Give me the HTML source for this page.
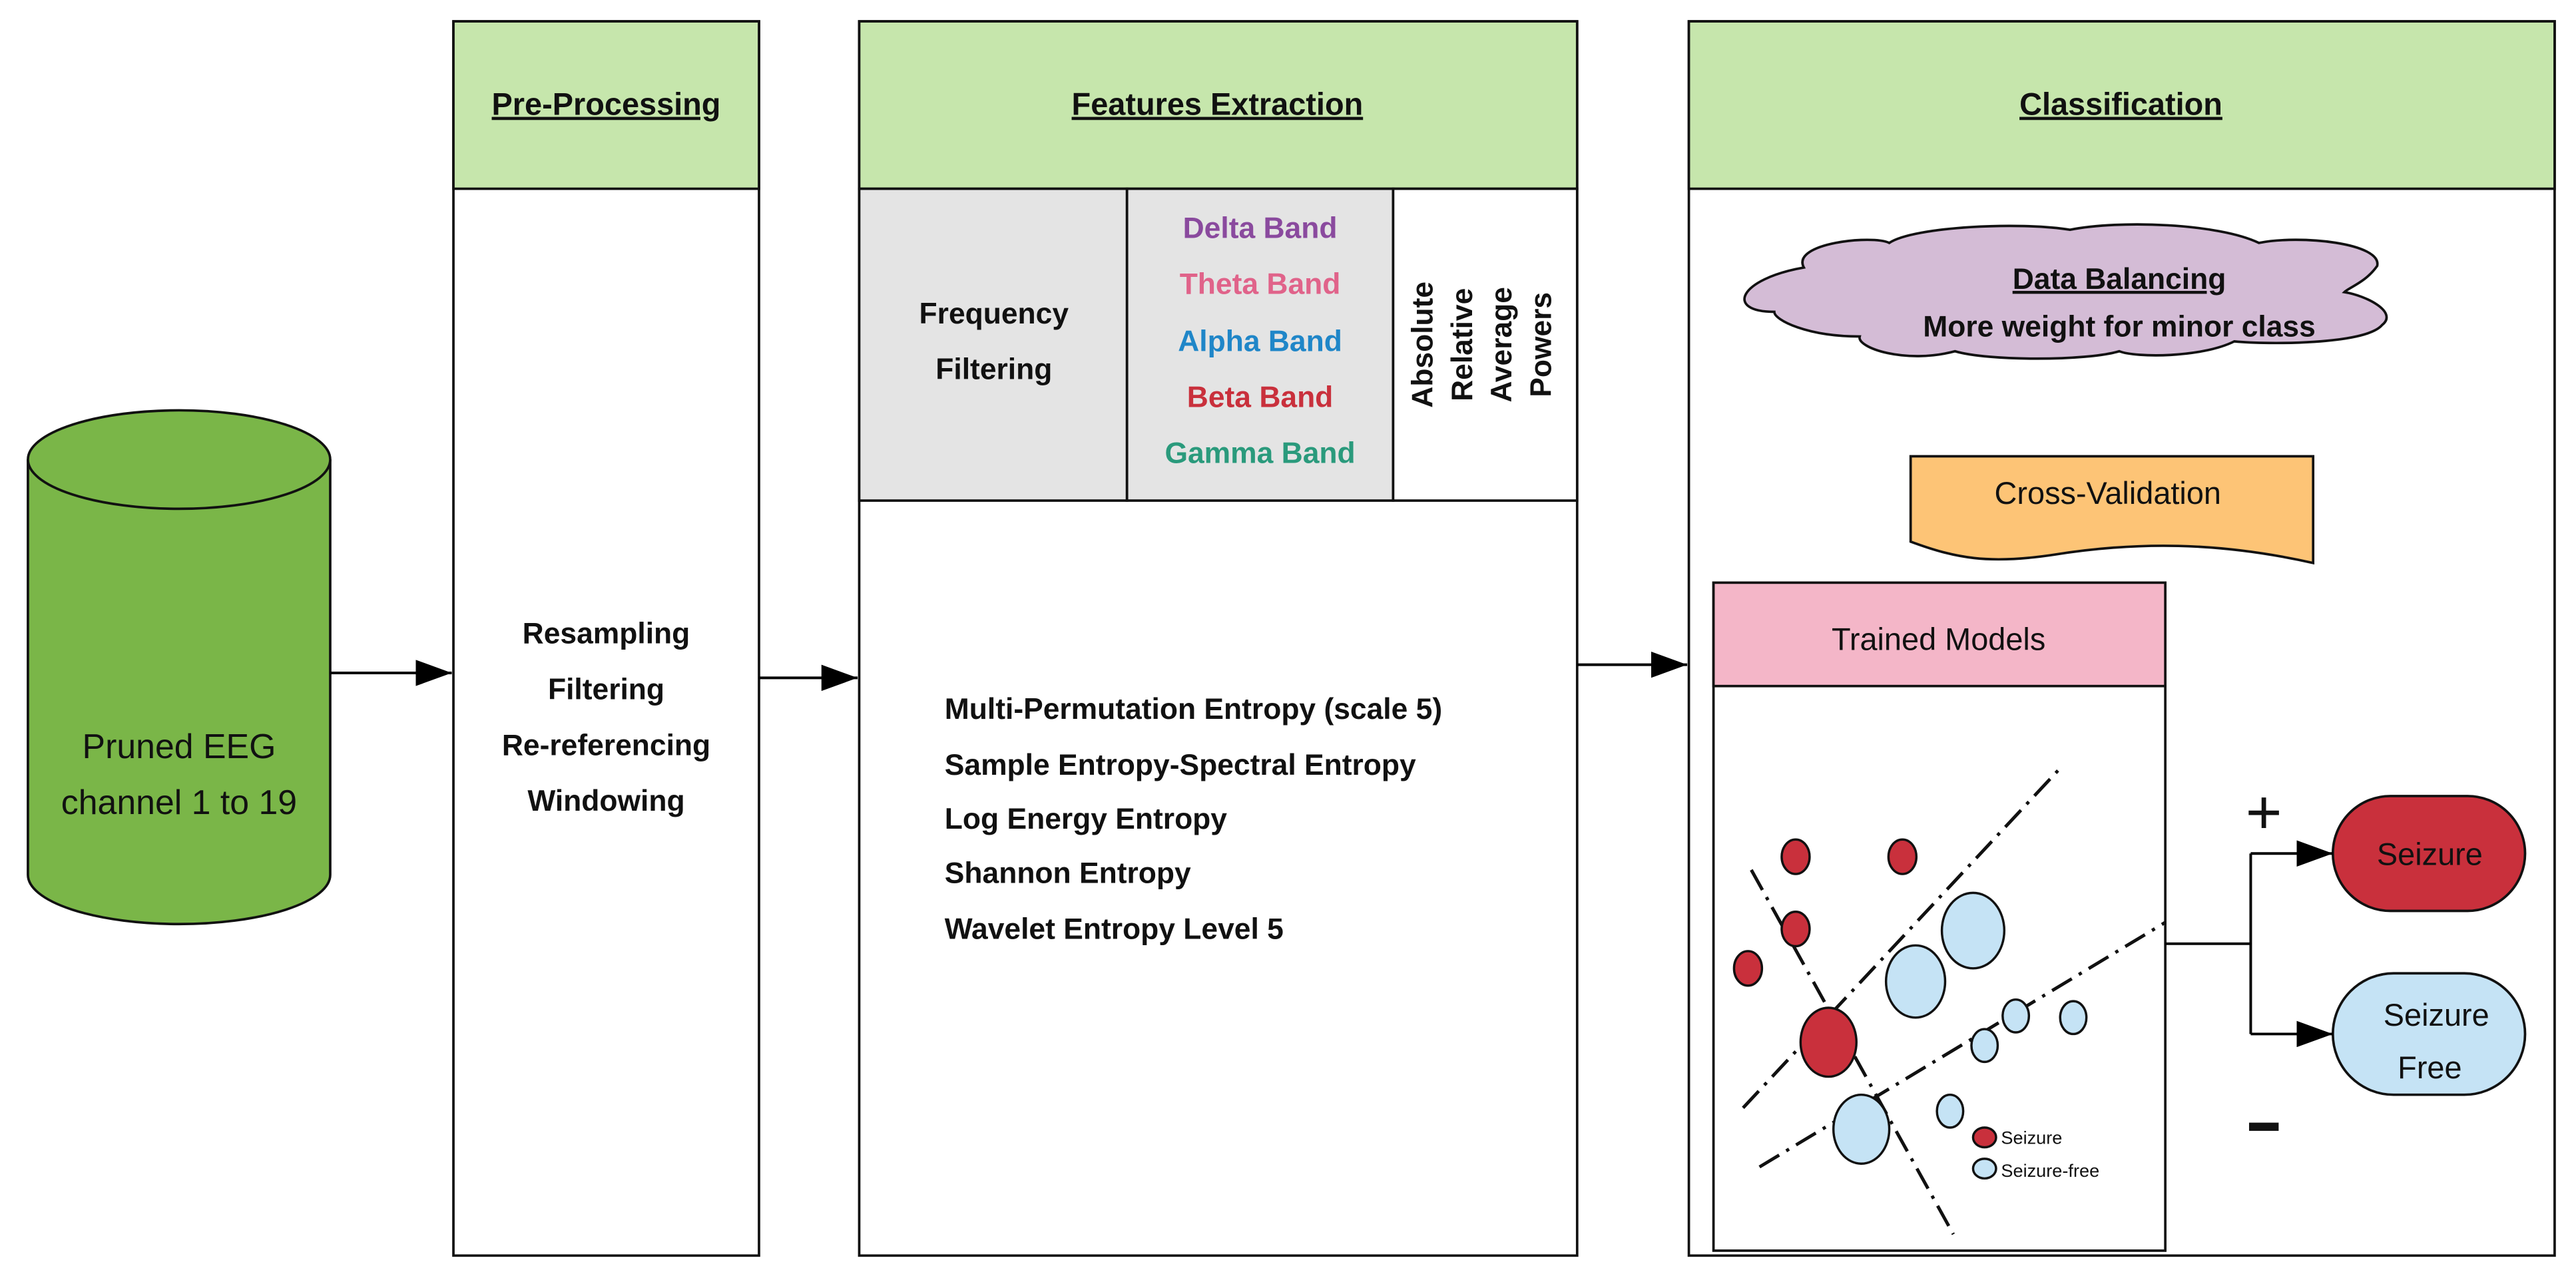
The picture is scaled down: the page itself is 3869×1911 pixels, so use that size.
<!DOCTYPE html>
<html><head><meta charset="utf-8"><style>html,body{margin:0;padding:0;background:#fff}svg{display:block}</style></head>
<body>
<svg width="3869" height="1911" viewBox="0 0 1568 775" preserveAspectRatio="none" xmlns="http://www.w3.org/2000/svg" font-family="Liberation Sans, Arial, sans-serif">
<defs>
<marker id="ab" viewBox="0 0 10 10" refX="10" refY="5" markerWidth="22" markerHeight="16" orient="auto" markerUnits="userSpaceOnUse" preserveAspectRatio="none"><path d="M0,0 L10,5 L0,10 z" fill="#000"/></marker></defs>
<g stroke="#111" stroke-width="1.5">
<!-- cylinder -->
<path d="M17,280 L17,533 A92,30 0 0 0 201,533 L201,280" fill="#7ab648"/>
<ellipse cx="109" cy="280" rx="92" ry="30" fill="#7ab648"/>
<!-- boxes -->
<rect x="276" y="13" width="186" height="752" fill="#fff"/>
<rect x="276" y="13" width="186" height="102" fill="#c6e6ac"/>
<rect x="523" y="13" width="437" height="752" fill="#fff"/>
<rect x="523" y="13" width="437" height="102" fill="#c6e6ac"/>
<rect x="523" y="115" width="163" height="190" fill="#e4e4e4"/>
<rect x="686" y="115" width="162" height="190" fill="#e4e4e4"/>
<rect x="848" y="115" width="112" height="190" fill="#fff"/>
<rect x="1028" y="13" width="527" height="752" fill="#fff"/>
<rect x="1028" y="13" width="527" height="102" fill="#c6e6ac"/>
<!-- cloud -->
<path d="M1098,163 C1090,148 1140,143 1150,148 C1165,138 1230,135 1260,140 C1290,134 1350,136 1375,148 C1400,143 1450,148 1447,162 C1440,172 1430,175 1427,178 C1440,180 1460,190 1450,198 C1440,210 1380,210 1360,208 C1340,218 1300,218 1290,214 C1270,220 1210,220 1190,214 C1160,222 1130,212 1132,205 C1100,205 1080,195 1080,190 C1050,190 1058,170 1098,163 Z" fill="#d4bcd6"/>
<!-- cross validation -->
<path d="M1163,278 L1408,278 L1408,343 C1350,330 1300,330 1250,338 C1210,344 1190,340 1163,330 Z" fill="#fdc476"/>
<!-- trained models -->
<rect x="1043" y="355" width="275" height="407" fill="#fff"/>
<rect x="1043" y="355" width="275" height="63" fill="#f4b6c8"/>
<!-- pills -->
<rect x="1420" y="485" width="117" height="70" rx="35" fill="#c9303c"/>
<rect x="1420" y="593" width="117" height="74" rx="37" fill="#c5e3f5"/>
</g>
<!-- arrows -->
<g stroke="#000" stroke-width="1.6" fill="none">
<line x1="201" y1="410" x2="275" y2="410" marker-end="url(#ab)"/>
<line x1="462" y1="413" x2="522" y2="413" marker-end="url(#ab)"/>
<line x1="960" y1="405" x2="1027" y2="405" marker-end="url(#ab)"/>
<polyline points="1318,575 1370,575"/>
<polyline points="1370,520 1370,630"/>
<line x1="1370" y1="520" x2="1420" y2="520" marker-end="url(#ab)"/>
<line x1="1370" y1="630" x2="1420" y2="630" marker-end="url(#ab)"/>
</g>
<!-- scatter lines -->
<g stroke="#111" stroke-width="2" stroke-dasharray="14,5,2,5" fill="none">
<line x1="1061" y1="675" x2="1255" y2="467"/>
<line x1="1071" y1="711" x2="1318" y2="562"/>
<line x1="1066" y1="530" x2="1189" y2="752"/>
</g>
<g stroke="#111" stroke-width="1.4">
<g fill="#c9303c">
<ellipse cx="1093" cy="522" rx="8.5" ry="10.5"/><ellipse cx="1158" cy="522" rx="8.5" ry="10.5"/>
<ellipse cx="1093" cy="566" rx="8.5" ry="10.5"/><ellipse cx="1064" cy="590" rx="8.5" ry="10.5"/>
<ellipse cx="1113" cy="635" rx="17" ry="21"/>
<ellipse cx="1208" cy="693" rx="7" ry="6"/>
</g>
<g fill="#c5e3f5">
<ellipse cx="1201" cy="567" rx="19" ry="23"/><ellipse cx="1166" cy="598" rx="18" ry="22"/>
<ellipse cx="1227" cy="619" rx="8" ry="10"/><ellipse cx="1208" cy="637" rx="8" ry="10"/>
<ellipse cx="1262" cy="620" rx="8" ry="10"/><ellipse cx="1187" cy="677" rx="8" ry="10"/>
<ellipse cx="1133" cy="688" rx="17" ry="21"/>
<ellipse cx="1208" cy="712" rx="7" ry="6"/>
</g>
</g>
<!-- text -->
<g text-anchor="middle" fill="#111">
<text x="109" y="462" font-size="21">Pruned EEG</text>
<text x="109" y="496" font-size="21">channel 1 to 19</text>
<text x="369" y="70" font-size="19" font-weight="bold" text-decoration="underline">Pre-Processing</text>
<text x="741" y="70" font-size="19" font-weight="bold" text-decoration="underline">Features Extraction</text>
<text x="1291" y="70" font-size="19" font-weight="bold" text-decoration="underline">Classification</text>
<g font-size="18" font-weight="bold">
<text x="369" y="392">Resampling</text><text x="369" y="426">Filtering</text>
<text x="369" y="460">Re-referencing</text><text x="369" y="494">Windowing</text>
<text x="605" y="197">Frequency</text><text x="605" y="231">Filtering</text>
<text x="767" y="145" fill="#8a4a9e">Delta Band</text>
<text x="767" y="179" fill="#e0638a">Theta Band</text>
<text x="767" y="214" fill="#1f86c8">Alpha Band</text>
<text x="767" y="248" fill="#c9303c">Beta Band</text>
<text x="767" y="282" fill="#2a9a7c">Gamma Band</text>
<text transform="translate(872,210) rotate(-90)">Absolute</text>
<text transform="translate(896,210) rotate(-90)">Relative</text>
<text transform="translate(920,210) rotate(-90)">Average</text>
<text transform="translate(944,210) rotate(-90)">Powers</text>
<text x="1290" y="176" text-decoration="underline">Data Balancing</text>
<text x="1290" y="205">More weight for minor class</text>
</g>
<text x="1283" y="307" font-size="19">Cross-Validation</text>
<text x="1180" y="396" font-size="19">Trained Models</text>
<text x="1479" y="527" font-size="19">Seizure</text>
<text x="1483" y="625" font-size="19">Seizure</text>
<text x="1479" y="657" font-size="19">Free</text>
<text x="1378" y="508" font-size="38">+</text>
<rect x="1369" y="684" width="18" height="5" fill="#111"/>
</g>
<g font-size="18" font-weight="bold" fill="#111">
<text x="575" y="438">Multi-Permutation Entropy (scale 5)</text>
<text x="575" y="472">Sample Entropy-Spectral Entropy</text>
<text x="575" y="505">Log Energy Entropy</text>
<text x="575" y="538">Shannon Entropy</text>
<text x="575" y="572">Wavelet Entropy Level 5</text>
</g>
<g font-size="11" fill="#111">
<text x="1218" y="697">Seizure</text>
<text x="1218" y="717">Seizure-free</text>
</g>
</svg>
</body></html>
